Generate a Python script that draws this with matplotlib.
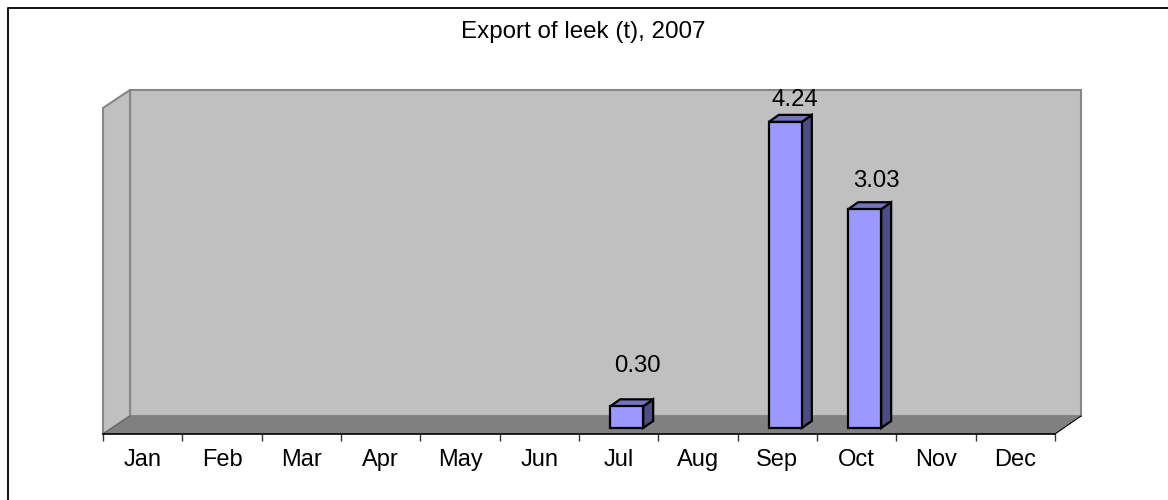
import matplotlib
matplotlib.use("Agg")
import matplotlib.pyplot as plt
from matplotlib.patches import Polygon

months = ["Jan", "Feb", "Mar", "Apr", "May", "Jun", "Jul", "Aug", "Sep", "Oct", "Nov", "Dec"]
export_t = [None, None, None, None, None, None, 0.30, None, 4.24, 3.03, None, None]
title = "Export of leek (t), 2007"

plt.rcParams['font.family'] = ['Liberation Sans', 'DejaVu Sans']

W, H = 1168, 500
fig = plt.figure(figsize=(W / 100, H / 100), dpi=100, facecolor="white")

# background axes in pixels, for the 3d box and the outer frame
bg = fig.add_axes([0, 0, 1, 1])
bg.set_xlim(0, W)
bg.set_ylim(H, 0)
bg.axis("off")

grey_line = "#868686"
bg.add_patch(Polygon([(130, 90), (1081, 90), (1081, 416), (130, 416)],
                     facecolor="#c0c0c0", edgecolor=grey_line, lw=1.5))
bg.add_patch(Polygon([(103, 108), (130, 90), (130, 416), (103, 434)],
                     facecolor="#c0c0c0", edgecolor=grey_line, lw=1.5))
bg.add_patch(Polygon([(103, 434), (130, 416), (1081, 416), (1055, 434)],
                     facecolor="#808080", edgecolor="none"))
bg.plot([1055, 1081], [434, 416], color="black", lw=0.8)
bg.plot([103, 130], [434, 416], color="#666666", lw=0.8)
# outer frame, only top and left are in the picture
bg.plot([8, 8, W + 5], [H + 5, 8, 8], color="#111111", lw=1.4, clip_on=False)

# axes for the bars: x is month index, y is tonnes
px_per_unit = 72.2
base_px = 428
floor_px = 434
ax = fig.add_axes([103 / W, (H - floor_px) / H, 952 / W, (floor_px - 90) / H])
ax.patch.set_alpha(0)
ax.set_xlim(0, 12)
ax.set_ylim(-(floor_px - base_px) / px_per_unit, (base_px - 90) / px_per_unit)

dx = 10 * 12 / 952
dy = 7 / px_per_unit
bar_w = 33 * 12 / 952
shift = 8 * 12 / 952
# label offset from the front top of the bar, in pixels (x, y)
label_offsets = {6: (11, 34), 8: (10, 16), 9: (12, 22)}

for i, v in enumerate(export_t):
    if v is None:
        continue
    x0 = i + 0.5 + shift - bar_w / 2
    x1 = x0 + bar_w
    ax.bar(x0, v, width=bar_w, align="edge", color="#9999ff", edgecolor="black", lw=1.6, zorder=3)
    ax.add_patch(Polygon([(x1, 0), (x1 + dx, dy), (x1 + dx, v + dy), (x1, v)],
                         facecolor="#4d4d80", edgecolor="black", lw=1.6, zorder=2))
    ax.add_patch(Polygon([(x0, v), (x0 + dx, v + dy), (x1 + dx, v + dy), (x1, v)],
                         facecolor="#7373bf", edgecolor="black", lw=1.6, zorder=2))
    off = label_offsets[i]
    ax.annotate(f"{v:.2f}", (x0 + bar_w / 2, v), xytext=(off[0] * 0.72, off[1] * 0.72),
                textcoords="offset points", ha="center", va="baseline", fontsize=17.3, color="black")

for s in ["top", "left", "right"]:
    ax.spines[s].set_visible(False)
ax.spines["bottom"].set_linewidth(1.2)
ax.spines["bottom"].set_color("black")
ax.set_yticks([])
ax.set_xticks(range(13))
ax.set_xticklabels([])
ax.set_xticks([i + 0.5 for i in range(12)], minor=True)
ax.set_xticklabels(months, minor=True, fontsize=17)
ax.tick_params(axis="x", which="major", length=5, width=1, color="#333333")
ax.tick_params(axis="x", which="minor", length=0, pad=10.5)

fig.text(583.5 / W, 1 - 38 / H, title, ha="center", va="baseline", fontsize=17.4)

fig.savefig("out.png", dpi=100)
